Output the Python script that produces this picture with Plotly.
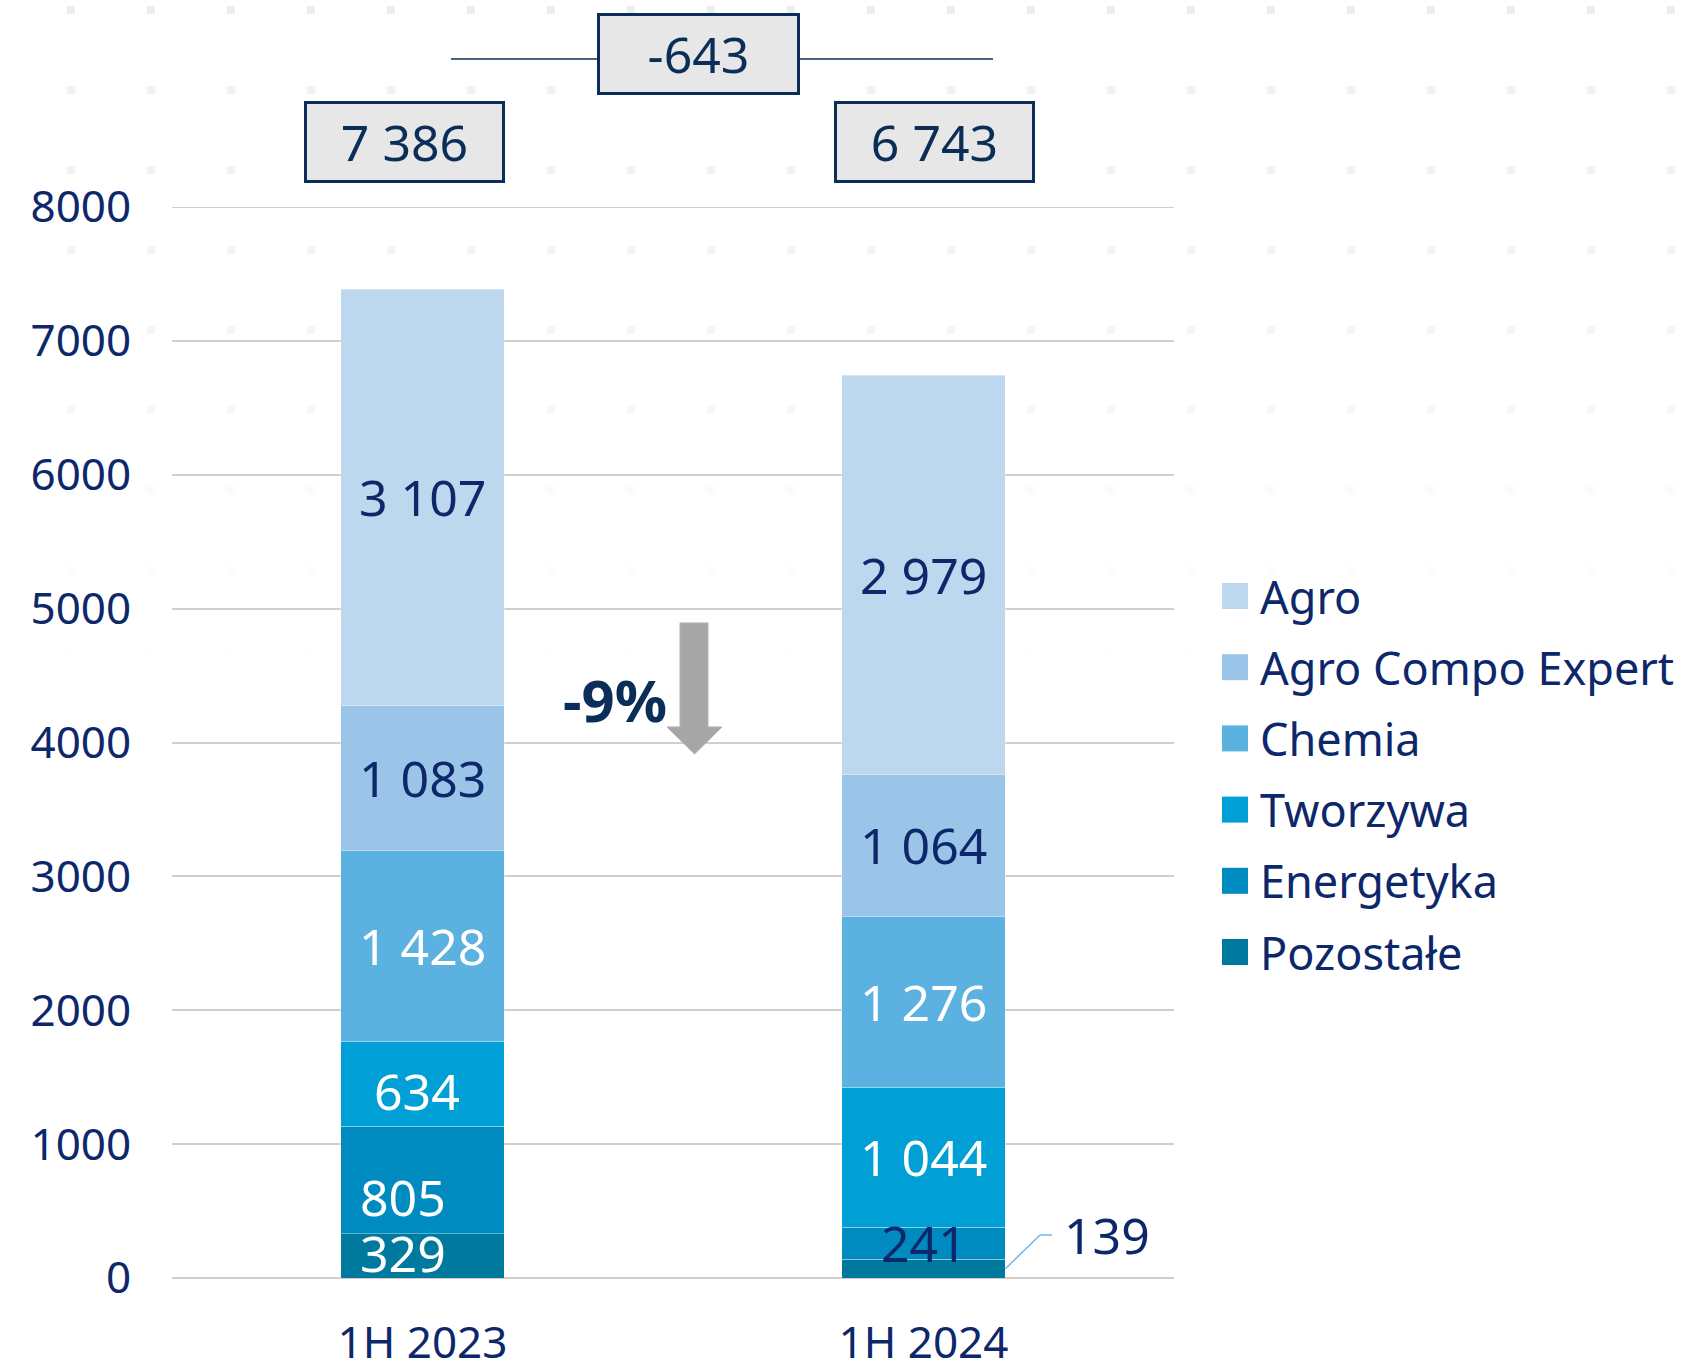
import base64
import plotly.graph_objects as go

# ---------------- data ----------------
categories = ["1H 2023", "1H 2024"]
series_names = ["Pozostałe", "Energetyka", "Tworzywa", "Chemia", "Agro Compo Expert", "Agro"]
pozostale = [329, 139]
energetyka = [805, 241]
tworzywa = [634, 1044]
chemia = [1428, 1276]
agro_compo_expert = [1083, 1064]
agro = [3107, 2979]
y_tick_values = [0, 1000, 2000, 3000, 4000, 5000, 6000, 7000, 8000]

series_values = [pozostale, energetyka, tworzywa, chemia, agro_compo_expert, agro]

# ---------------- styles ----------------
FONT = "Noto Sans"
NAVY = "#0D286A"
BOXNAVY = "#0A2E58"
WHITE = "#FFFFFF"
GRID = "#D3CFC8"
series_colors = ["#00799F", "#008BC0", "#00A0D6", "#5BB1E0", "#9BC5E8", "#BDD7EE"]
# label colour per series per category
label_colors = [
    [WHITE, NAVY],   # Pozostałe (2024 label is outside)
    [WHITE, NAVY],   # Energetyka
    [WHITE, WHITE],  # Tworzywa
    [WHITE, WHITE],  # Chemia
    [NAVY, NAVY],    # Agro Compo Expert
    [NAVY, NAVY],    # Agro
]
label_shift = {(2, 0): (-6, -7), (1, 0): (-20, -17), (0, 0): (-20, 3)}
outside_label = (0, 1)  # Pozostałe 1H 2024 shown outside with leader

BAR_W = 0.327
L, R, T, B = 172, 512, 207, 86
W, H = 1686, 1364
PW, PH = W - L - R, H - T - B
LABEL_SIZE = 50


def px_x(px):
    return (px - L) / PW


def px_y(py):
    return (H - B - py) / PH


def fmt(v):
    return f"{v:,}".replace(",", " ")


fig = go.Figure()
for name, vals, col in zip(series_names, series_values, series_colors):
    fig.add_trace(go.Bar(
        x=categories, y=vals, name=name, width=BAR_W,
        marker=dict(color=col, line=dict(color="rgba(255,255,255,0.35)", width=1)),
        showlegend=False, hoverinfo="x+y+name",
    ))

annotations = []
shapes = []

# top gridline (plotly skips a gridline lying on the plot edge)
shapes.append(dict(type="line", xref="paper", yref="y", x0=0, x1=1,
                   y0=y_tick_values[-1], y1=y_tick_values[-1],
                   line=dict(color=GRID, width=2), layer="below"))

# segment labels
for ci, cat in enumerate(categories):
    base = 0
    for si, vals in enumerate(series_values):
        v = vals[ci]
        mid = base + v / 2
        if (si, ci) == outside_label:
            xe = ci + BAR_W / 2
            elbow_x, end_x, ly = xe + 0.069, xe + 0.093, 321
            shapes.append(dict(type="line", xref="x", yref="y", x0=xe, y0=mid, x1=elbow_x, y1=ly,
                               line=dict(color="#6FB8F0", width=1.5)))
            shapes.append(dict(type="line", xref="x", yref="y", x0=elbow_x, y0=ly, x1=end_x, y1=ly,
                               line=dict(color="#6FB8F0", width=1.5)))
            annotations.append(dict(x=end_x + 0.02, y=ly, xref="x", yref="y", text=fmt(v),
                                    showarrow=False, xanchor="left", yanchor="middle",
                                    font=dict(family=FONT, size=LABEL_SIZE, color=NAVY)))
        else:
            dx, dy = label_shift.get((si, ci), (0, 0))
            annotations.append(dict(x=cat, y=mid, xref="x", yref="y", text=fmt(v),
                                    showarrow=False, xshift=dx, yshift=dy,
                                    xanchor="center", yanchor="middle",
                                    font=dict(family=FONT, size=LABEL_SIZE, color=label_colors[si][ci])))
        base += v

# totals boxes
totals = [sum(vals[ci] for vals in series_values) for ci in range(len(categories))]
box_shift = [-18, 11]
for ci, cat in enumerate(categories):
    annotations.append(dict(x=cat, y=px_y(141.5), xref="x", yref="paper", text=fmt(totals[ci]),
                            showarrow=False, xshift=box_shift[ci], width=195, height=76,
                            xanchor="center", yanchor="middle",
                            bgcolor="#E7E7E7", bordercolor=BOXNAVY, borderwidth=3, borderpad=0,
                            font=dict(family=FONT, size=LABEL_SIZE, color=BOXNAVY)))

# difference box with line
diff = totals[1] - totals[0]
shapes.append(dict(type="line", xref="paper", yref="paper", x0=px_x(451), x1=px_x(993),
                   y0=px_y(59), y1=px_y(59), line=dict(color="#4A6582", width=2)))
annotations.append(dict(x=px_x(698), y=px_y(54), xref="paper", yref="paper", text=fmt(diff),
                        showarrow=False, width=197, height=76, bgcolor="#E7E7E7",
                        xanchor="center", yanchor="middle",
                        bordercolor=BOXNAVY, borderwidth=3, borderpad=0,
                        font=dict(family=FONT, size=LABEL_SIZE, color=BOXNAVY)))

# percent change with arrow
pct = round(diff / totals[0] * 100)
annotations.append(dict(x=px_x(615), y=px_y(699), xref="paper", yref="paper", text=f"<b>{pct}%</b>",
                        showarrow=False, xanchor="center", yanchor="middle",
                        font=dict(family=FONT, size=58, color=BOXNAVY)))
ax = [680, 708, 708, 722, 694.5, 667, 680]
ay = [623, 623, 727, 727, 754, 727, 727]
path = "M " + " L ".join(f"{px_x(a):.4f},{px_y(b):.4f}" for a, b in zip(ax, ay)) + " Z"
shapes.append(dict(type="path", xref="paper", yref="paper", path=path,
                   fillcolor="#A6A6A6", line=dict(color="#B0B0B0", width=1)))

# manual legend (top to bottom)
row_y0, row_step = 596, 71.2
for k, si in enumerate(reversed(range(len(series_names)))):
    cy = row_y0 + k * row_step
    shapes.append(dict(type="rect", xref="paper", yref="paper",
                       x0=px_x(1222), x1=px_x(1248), y0=px_y(cy + 13), y1=px_y(cy - 13),
                       fillcolor=series_colors[si], line=dict(width=0)))
    annotations.append(dict(x=px_x(1258), y=px_y(cy), xref="paper", yref="paper",
                            text=series_names[si], showarrow=False, xanchor="left", yanchor="middle",
                            font=dict(family=FONT, size=45, color=NAVY)))

# faint dotted background
svg = f"""<svg xmlns='http://www.w3.org/2000/svg' width='{W}' height='{H}'>
<defs>
<pattern id='p' x='67' y='6' width='80' height='80' patternUnits='userSpaceOnUse'>
<rect width='8' height='8' fill='#EBEEF3'/></pattern>
<linearGradient id='g' x1='0' y1='0' x2='0' y2='1'>
<stop offset='0' stop-color='white' stop-opacity='1'/>
<stop offset='0.5' stop-color='white' stop-opacity='0'/></linearGradient>
<mask id='m'><rect width='{W}' height='{H}' fill='url(#g)'/></mask>
</defs>
<rect width='{W}' height='{H}' fill='url(#p)' mask='url(#m)'/>
</svg>"""
src = "data:image/svg+xml;base64," + base64.b64encode(svg.encode()).decode()

fig.update_layout(
    width=W, height=H,
    margin=dict(l=L, r=R, t=T, b=B, autoexpand=False),
    barmode="stack",
    paper_bgcolor="white", plot_bgcolor="rgba(0,0,0,0)",
    showlegend=False,
    annotations=annotations,
    shapes=shapes,
    images=[dict(source=src, xref="paper", yref="paper", x=-L / PW, y=1 + T / PH,
                 sizex=W / PW, sizey=H / PH, xanchor="left", yanchor="top",
                 sizing="stretch", layer="below")],
    xaxis=dict(type="category", range=[-0.5, 1.5], showgrid=False, showline=False, zeroline=False,
               automargin=False, ticks="outside", ticklen=26, tickcolor="rgba(0,0,0,0)",
               tickfont=dict(family=FONT, size=44, color=NAVY)),
    yaxis=dict(range=[0, 8000], tickvals=y_tick_values, ticktext=[str(v) for v in y_tick_values],
               automargin=False, showgrid=True, gridcolor=GRID, gridwidth=2,
               zeroline=True, zerolinecolor=GRID, zerolinewidth=2, showline=False,
               ticks="outside", ticklen=31, tickcolor="rgba(0,0,0,0)",
               tickfont=dict(family=FONT, size=44, color=NAVY)),
)

fig.write_html("out.html", config={"displayModeBar": False},
               post_script="document.body.style.margin='0';document.body.style.overflow='hidden';")
